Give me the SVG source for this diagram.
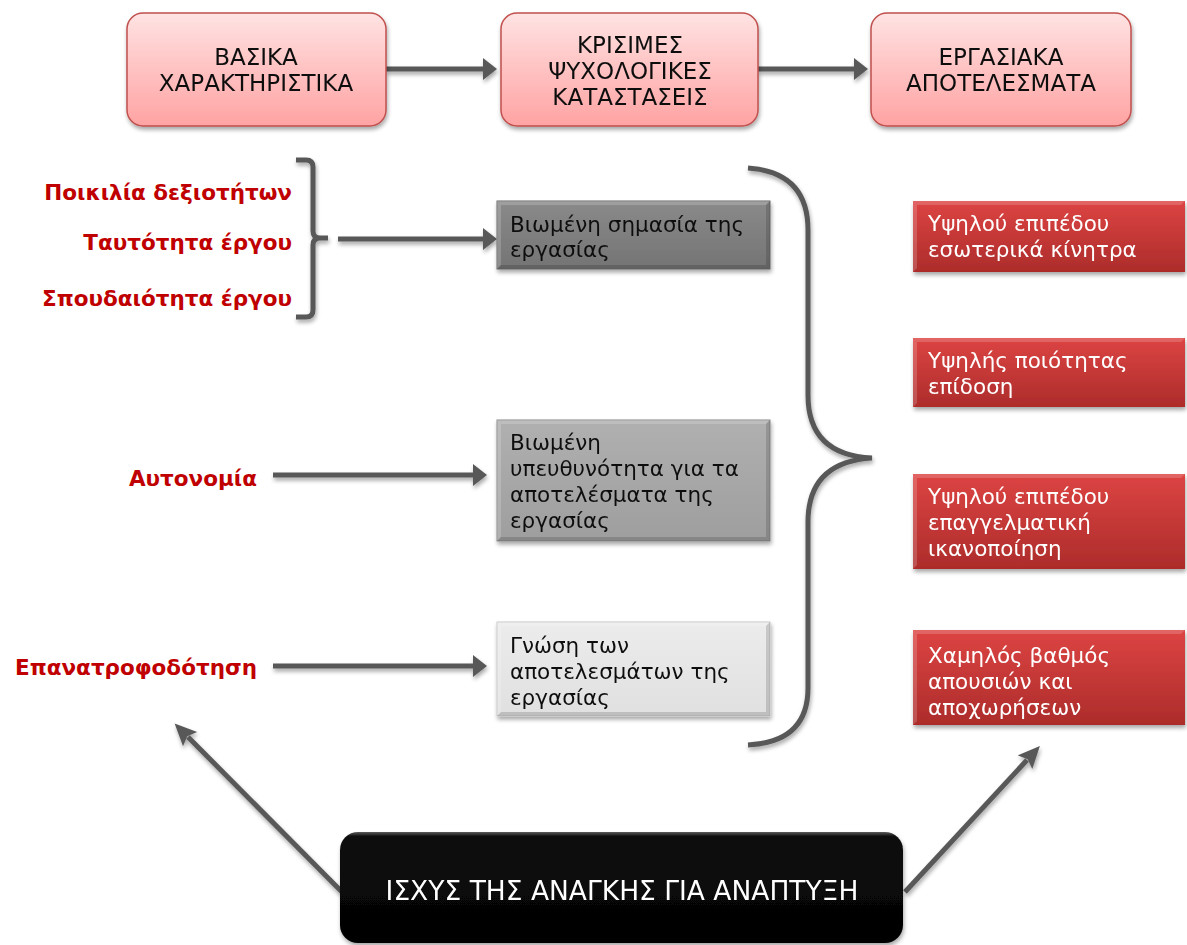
<svg xmlns="http://www.w3.org/2000/svg" width="1187" height="945" viewBox="0 0 1187 945">
<style>
.t{font-family:"DejaVu Sans","Verdana",sans-serif;font-size:21.5px}
.cap{font-size:23px;text-anchor:middle;fill:#111}
.lbl{font-family:"DejaVu Sans","Verdana",sans-serif;font-size:21.5px;font-weight:bold;fill:#c00000;text-anchor:end}
.pink{fill:url(#gPink);stroke:#c0504d;stroke-width:1.5}
.red{fill:url(#gRed)}
.w{fill:#fff}
.k{fill:#111}
.conn{stroke:#595959;stroke-width:5;fill:none}
.hi{fill:#fff;opacity:0.18}
.lo{fill:#000;opacity:0.15}
</style>
<defs>
<linearGradient id="gPink" x1="0" y1="0" x2="0" y2="1">
<stop offset="0" stop-color="#ffe3e3"/><stop offset="0.5" stop-color="#ffc2c2"/><stop offset="1" stop-color="#ffa3a3"/>
</linearGradient>
<linearGradient id="gRed" x1="0" y1="0" x2="0" y2="1">
<stop offset="0" stop-color="#dc4442"/><stop offset="1" stop-color="#ad2c2b"/>
</linearGradient>
<linearGradient id="gDark" x1="0" y1="0" x2="0" y2="1">
<stop offset="0" stop-color="#8a8a8a"/><stop offset="1" stop-color="#747474"/>
</linearGradient>
<linearGradient id="gMid" x1="0" y1="0" x2="0" y2="1">
<stop offset="0" stop-color="#b0b0b0"/><stop offset="1" stop-color="#9e9e9e"/>
</linearGradient>
<linearGradient id="gLight" x1="0" y1="0" x2="0" y2="1">
<stop offset="0" stop-color="#ececec"/><stop offset="1" stop-color="#e0e0e0"/>
</linearGradient>
<linearGradient id="gBlack" x1="0" y1="0" x2="0" y2="1">
<stop offset="0" stop-color="#5a5a5a"/><stop offset="0.04" stop-color="#0c0c0c"/><stop offset="1" stop-color="#030303"/>
</linearGradient>
<filter id="sh" x="-5%" y="-5%" width="115%" height="125%">
<feGaussianBlur in="SourceAlpha" stdDeviation="2"/>
<feOffset dx="1" dy="3" result="b"/>
<feComponentTransfer><feFuncA type="linear" slope="0.35"/></feComponentTransfer>
<feMerge><feMergeNode/><feMergeNode in="SourceGraphic"/></feMerge>
</filter>
<marker id="ah" markerUnits="userSpaceOnUse" markerWidth="16" markerHeight="24" refX="2" refY="11" orient="auto">
<path d="M0,0 L14,11 L0,22 Z" fill="#595959"/>
</marker>
<marker id="ah2" markerUnits="userSpaceOnUse" markerWidth="24" markerHeight="24" refX="3" refY="10" orient="auto">
<path d="M0,0 L22,10 L0,20 L4,10 Z" fill="#595959"/>
</marker>
</defs>
<rect width="1187" height="945" fill="#fff"/>

<g id="connectors" filter="url(#sh)">
<line class="conn" x1="386" y1="69" x2="485" y2="69" marker-end="url(#ah)"/>
<line class="conn" x1="758" y1="69" x2="856" y2="69" marker-end="url(#ah)"/>
<path class="conn" stroke-width="4" d="M296,160 L306,160 Q313,160 313,167 L313,231 Q313,238 320,238 L328,238 M320,238 Q313,238 313,245 L313,310 Q313,317 306,317 L296,317"/>
<line class="conn" x1="338" y1="239" x2="485" y2="239" marker-end="url(#ah)"/>
<line class="conn" x1="273" y1="475" x2="475" y2="475" marker-end="url(#ah)"/>
<line class="conn" x1="273" y1="666" x2="475" y2="666" marker-end="url(#ah)"/>
<path class="conn" d="M748,168 Q808,172 808,230 L808,395 Q808,455 872,458 Q808,462 808,522 L808,688 Q808,742 748,745"/>
<line class="conn" stroke-width="4" x1="342" y1="892" x2="188" y2="737" marker-end="url(#ah2)"/>
<line class="conn" stroke-width="4" x1="905" y1="892" x2="1027" y2="760" marker-end="url(#ah2)"/>
</g>

<g id="n-basika" filter="url(#sh)">
<rect class="pink" x="127" y="13" width="259" height="113" rx="16"/>
<text class="t cap" x="256" y="65">ΒΑΣΙΚΑ</text>
<text class="t cap" x="256" y="91">ΧΑΡΑΚΤΗΡΙΣΤΙΚΑ</text>
</g>
<g id="n-krisimes" filter="url(#sh)">
<rect class="pink" x="501" y="13" width="257" height="113" rx="16"/>
<text class="t cap" x="630" y="53">ΚΡΙΣΙΜΕΣ</text>
<text class="t cap" x="630" y="79">ΨΥΧΟΛΟΓΙΚΕΣ</text>
<text class="t cap" x="630" y="105">ΚΑΤΑΣΤΑΣΕΙΣ</text>
</g>
<g id="n-ergasiaka" filter="url(#sh)">
<rect class="pink" x="871" y="13" width="260" height="113" rx="16"/>
<text class="t cap" x="1001" y="65">ΕΡΓΑΣΙΑΚΑ</text>
<text class="t cap" x="1001" y="91">ΑΠΟΤΕΛΕΣΜΑΤΑ</text>
</g>

<g id="l-poikilia"><text class="lbl" x="292" y="200">Ποικιλία δεξιοτήτων</text></g>
<g id="l-tautotita"><text class="lbl" x="292" y="250">Ταυτότητα έργου</text></g>
<g id="l-spoudaiotita"><text class="lbl" x="292" y="306">Σπουδαιότητα έργου</text></g>
<g id="l-autonomia"><text class="lbl" x="257" y="486">Αυτονομία</text></g>
<g id="l-epanatrofodotisi"><text class="lbl" x="257" y="675">Επανατροφοδότηση</text></g>

<g id="n-simasia" filter="url(#sh)">
<rect x="497" y="201" width="273" height="68" fill="url(#gDark)" stroke="#6a6a6a" stroke-width="1"/>
<path class="hi" d="M497,201 H770 L766,205 H501 V265 L497,269 Z"/>
<path class="lo" d="M770,201 V269 H497 L501,265 H766 V205 Z"/>
<text class="t k" x="510" y="232">Βιωμένη σημασία της</text>
<text class="t k" x="510" y="257">εργασίας</text>
</g>
<g id="n-ypeuthynotita" filter="url(#sh)">
<rect x="497" y="420" width="273" height="121" fill="url(#gMid)" stroke="#8a8a8a" stroke-width="1"/>
<path class="hi" d="M497,420 H770 L766,424 H501 V537 L497,541 Z"/>
<path class="lo" d="M770,420 V541 H497 L501,537 H766 V424 Z"/>
<text class="t k" x="510" y="450">Βιωμένη</text>
<text class="t k" x="510" y="476">υπευθυνότητα για τα</text>
<text class="t k" x="510" y="502">αποτελέσματα της</text>
<text class="t k" x="510" y="528">εργασίας</text>
</g>
<g id="n-gnosi" filter="url(#sh)">
<rect x="497" y="622" width="273" height="94" fill="url(#gLight)" stroke="#c8c8c8" stroke-width="1"/>
<path class="hi" d="M497,622 H770 L766,626 H501 V712 L497,716 Z"/>
<path class="lo" d="M770,622 V716 H497 L501,712 H766 V626 Z"/>
<text class="t k" x="510" y="653">Γνώση των</text>
<text class="t k" x="510" y="679">αποτελεσμάτων της</text>
<text class="t k" x="510" y="705">εργασίας</text>
</g>

<g id="n-kinitra" filter="url(#sh)">
<rect class="red" x="913" y="201" width="272" height="71"/>
<path class="hi" d="M913,201 H1185 L1181,205 H917 V268 L913,272 Z"/>
<text class="t w" x="928" y="231">Υψηλού επιπέδου</text>
<text class="t w" x="928" y="257">εσωτερικά κίνητρα</text>
</g>
<g id="n-epidosi" filter="url(#sh)">
<rect class="red" x="913" y="338" width="272" height="69"/>
<path class="hi" d="M913,338 H1185 L1181,342 H917 V403 L913,407 Z"/>
<text class="t w" x="928" y="368">Υψηλής ποιότητας</text>
<text class="t w" x="928" y="394">επίδοση</text>
</g>
<g id="n-ikanopoiisi" filter="url(#sh)">
<rect class="red" x="913" y="474" width="272" height="95"/>
<path class="hi" d="M913,474 H1185 L1181,478 H917 V565 L913,569 Z"/>
<text class="t w" x="928" y="504">Υψηλού επιπέδου</text>
<text class="t w" x="928" y="530">επαγγελματική</text>
<text class="t w" x="928" y="556">ικανοποίηση</text>
</g>
<g id="n-apousies" filter="url(#sh)">
<rect class="red" x="913" y="630" width="272" height="95"/>
<path class="hi" d="M913,630 H1185 L1181,634 H917 V721 L913,725 Z"/>
<text class="t w" x="928" y="663">Χαμηλός βαθμός</text>
<text class="t w" x="928" y="689">απουσιών και</text>
<text class="t w" x="928" y="715">αποχωρήσεων</text>
</g>

<g id="n-ischys" filter="url(#sh)">
<rect x="340" y="832" width="563" height="111" rx="18" fill="url(#gBlack)"/>
<text class="t w" x="622" y="900" text-anchor="middle" style="font-size:26.5px">ΙΣΧΥΣ ΤΗΣ ΑΝΑΓΚΗΣ ΓΙΑ ΑΝΑΠΤΥΞΗ</text>
</g>
</svg>
